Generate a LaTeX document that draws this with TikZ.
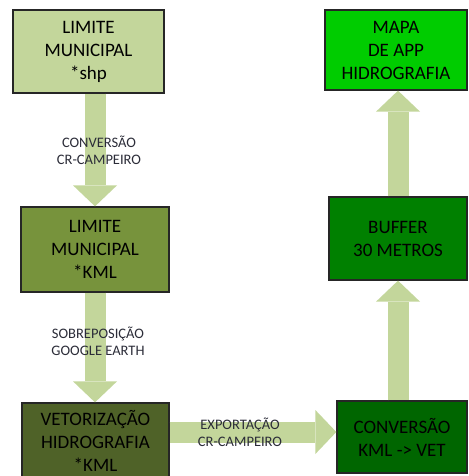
\documentclass[tikz,border=0pt]{standalone}
\usepackage{fontspec}
\setmainfont{Carlito}
\usetikzlibrary{arrows.meta}
\definecolor{verdeA}{HTML}{C3D69B}
\definecolor{verdeB}{HTML}{77933C}
\definecolor{verdeC}{HTML}{4F6228}
\definecolor{verdeD}{HTML}{006600}
\definecolor{verdeE}{HTML}{008000}
\definecolor{verdeF}{HTML}{00CC00}
\definecolor{rotulo}{HTML}{2B2C38}

\begin{document}
\begin{tikzpicture}[x=1pt, y=-1pt,
    box/.style={rectangle, draw=black!85, line width=1.3pt, align=center,
        inner sep=0pt, font=\fontsize{19}{23}\selectfont},
    seta/.style={draw=verdeA, line width=21pt,
        -{Triangle[length=21pt, width=44pt, line width=0pt]}},
    rot/.style={text=rotulo, align=center, font=\fontsize{14.5}{17}\selectfont}]
\useasboundingbox (0,0) rectangle (468,476);

% Left column
\node[box, fill=verdeA, minimum width=151pt, minimum height=83pt] (limshp) at (88.5,51.5) {LIMITE\\MUNICIPAL\\*shp};
\node[box, fill=verdeB, minimum width=148pt, minimum height=85pt] (limkml) at (95,249.5) {LIMITE\\MUNICIPAL\\*KML};
\node[box, fill=verdeC, minimum width=147pt, minimum height=76pt] (vet) at (95.5,441) {VETORIZAÇÃO\\HIDROGRAFIA\\*KML};

% Right column
\node[box, fill=verdeD, minimum width=130pt, minimum height=72pt] (conv) at (402,437) {CONVERSÃO\\KML -> VET};
\node[box, fill=verdeE, minimum width=138pt, minimum height=83pt] (buf) at (398,238.5) {BUFFER\\30 METROS};
\node[box, fill=verdeF, minimum width=142pt, minimum height=80pt] (mapa) at (396,50) {MAPA\\DE APP\\HIDROGRAFIA};

% Arrows
\draw[seta] (limshp.south -| limkml.north) -- node[rot, xshift=4pt] {CONVERSÃO\\CR-CAMPEIRO} (limkml.north);
\draw[seta] (limkml.south) -- node[rot, xshift=3pt, yshift=6pt] {SOBREPOSIÇÃO\\GOOGLE EARTH} (limkml.south |- vet.north);
\draw[seta] ([yshift=9pt]vet.east) -- node[rot, xshift=-13pt] {EXPORTAÇÃO\\CR-CAMPEIRO} ([yshift=9pt]vet.east -| conv.west);
\draw[seta] (conv.north -| buf.south) -- (buf.south);
\draw[seta] (buf.north) -- (buf.north |- mapa.south);
\end{tikzpicture}
\end{document}
